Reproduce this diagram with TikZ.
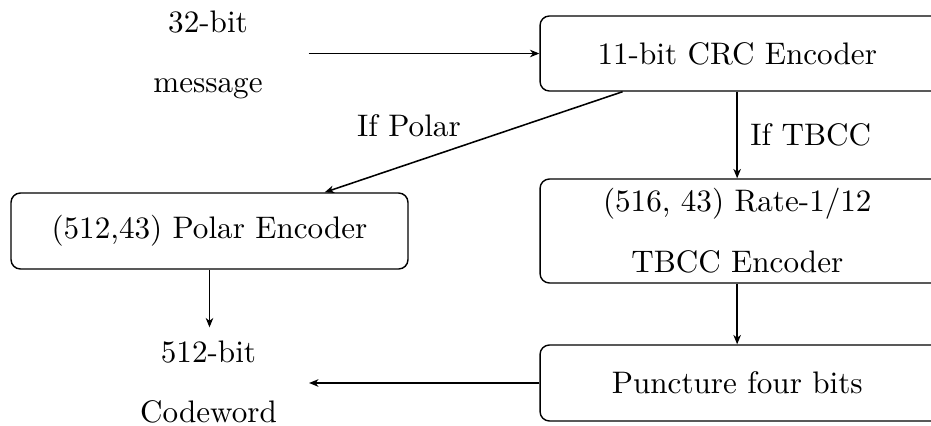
\documentclass[tikz,border=0pt]{standalone}
\usetikzlibrary{calc,arrows.meta}
\begin{document}
\begin{tikzpicture}[x=0.3212pt,y=-0.3212pt,
  blockbox/.style={draw,rounded corners=3pt,line width=0.45pt,inner sep=0pt,align=center},
  widebox/.style={blockbox,minimum width=131pt,execute at begin node={\hspace*{-4.3pt}}},
  plaintext/.style={inner sep=0pt,align=center,minimum width=64.2pt,minimum height=34.7pt},
  conn/.style={-{Stealth[length=3pt,width=2.4pt,inset=0.9pt]},line width=0.5pt}]
\useasboundingbox (0,0) rectangle (931,425);
\node[widebox,minimum height=24.1pt] (crc) at (744,53.5) {11-bit CRC Encoder};
\node[widebox,minimum height=33.4pt] (tbcc) at (744,231) {(516, 43) Rate-$1/12$\\[7.5pt]TBCC Encoder};
\node[widebox,minimum height=24.4pt] (punct) at (744,383) {Puncture four bits};
\node[blockbox,minimum width=127.5pt,minimum height=24.4pt] (polar) at (209.5,231) {(512,43) Polar Encoder};
\node[plaintext] (msg) at (208,55) {32-bit\\[7.5pt]message};
\node[plaintext] (cw) at (208.5,382) {512-bit\\[7.5pt]Codeword};
\draw[conn] (msg.east |- crc.west) -- (crc.west);
\draw[conn] ([xshift=-39pt]crc.south) -- node[pos=0.52,anchor=south east,inner sep=2pt] (lp) {If Polar} ([xshift=37pt]polar.north);
\draw[conn] ([xshift=-2.2pt]crc.south) -- node[right=0.7pt] (lt) {If TBCC} ([xshift=-2.2pt]tbcc.north);
\draw[conn] ([xshift=-2.2pt]tbcc.south) -- ([xshift=-2.2pt]punct.north);
\draw[conn] (punct.west) -- (cw.east |- punct.west);
\draw[conn] (polar.south) -- (polar.south |- cw.north);
\end{tikzpicture}
\end{document}
